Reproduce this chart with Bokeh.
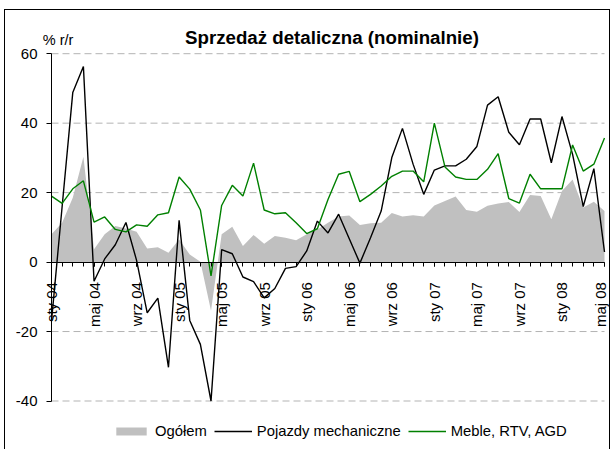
import math
from bokeh.plotting import figure
from bokeh.models import Range1d, FixedTicker, Label, Legend, LegendItem
from bokeh.embed import file_html
from bokeh.resources import INLINE

# months from sty 04 (index 0) to maj 08 (index 52)
month_index = list(range(53))
tick_index = [0, 4, 8, 12, 16, 20, 24, 28, 32, 36, 40, 44, 48, 52]
tick_labels = ["sty 04", "maj 04", "wrz 04", "sty 05", "maj 05", "wrz 05", "sty 06",
               "maj 06", "wrz 06", "sty 07", "maj 07", "wrz 07", "sty 08", "maj 08"]
y_ticks = [-40, -20, 0, 20, 40, 60]
grid_ticks = [-40, -20, 20, 40, 60]

ogolem = [8.0, 11.3, 18.5, 30.3, 3.7, 8.0, 10.4, 9.7, 8.75, 3.9, 4.3, 2.7, 6.5, 2.2,
          0.1, -14.0, 8.0, 10.2, 4.6, 7.8, 5.3, 7.5, 7.0, 6.3, 8.0, 9.4, 11.3, 13.1,
          13.4, 10.7, 11.2, 11.3, 14.1, 13.1, 13.5, 13.1, 16.3, 17.6, 18.9, 15.0, 14.5,
          16.2, 16.9, 17.3, 14.4, 19.3, 19.0, 12.3, 20.5, 23.8, 15.7, 17.4, 14.7]

pojazdy = [-17.0, 16.0, 48.8, 56.3, -5.5, 0.9, 5.0, 11.4, 0.5, -14.6, -10.4, -30.3, 12.0,
           -16.8, -23.7, -40.0, 3.6, 2.4, -4.3, -5.6, -10.3, -7.6, -1.8, -1.3, 3.2, 11.8,
           8.4, 13.8, 6.7, -0.3, 7.0, 14.7, 30.1, 38.5, 28.2, 19.5, 26.5, 27.7, 27.7, 29.6,
           33.3, 45.2, 47.6, 37.4, 33.8, 41.2, 41.2, 28.6, 41.9, 31.0, 16.0, 26.9, 2.9]

meble = [19.0, 16.9, 21.1, 23.4, 11.5, 13.0, 9.4, 8.7, 10.7, 10.3, 13.6, 14.2, 24.5, 21.0,
         15.0, -4.0, 16.3, 22.1, 19.0, 28.5, 15.0, 13.9, 14.2, 11.3, 8.2, 9.6, 18.0, 25.3,
         26.1, 17.4, 19.5, 21.9, 24.7, 26.2, 26.2, 23.1, 40.0, 27.4, 24.5, 23.8, 23.8, 26.7,
         31.2, 18.3, 17.0, 25.3, 21.1, 21.1, 21.1, 33.7, 26.2, 28.2, 35.7]

FONT = "Liberation Sans"

# layout (pixels inside the figure)
W, H = 606, 440
PX_LEFT, PX_RIGHT = 46.0, 599.0      # where month 0 and month 52 sit
PX_TOP, PX_BOTTOM = 43.2, 390.5      # where 60 and -40 sit
xs = (PX_RIGHT - PX_LEFT) / 52.0
ys = (PX_BOTTOM - PX_TOP) / 100.0
x_rng = Range1d(0 - PX_LEFT / xs, 52 + (W - PX_RIGHT) / xs)
y_rng = Range1d(-40 - (H - PX_BOTTOM) / ys, 60 + PX_TOP / ys)

p = figure(width=W, height=H, output_backend="svg", toolbar_location=None,
           x_range=x_rng, y_range=y_rng,
           min_border_left=0, min_border_right=0, min_border_top=0, min_border_bottom=0)
p.title.visible = False
p.outline_line_color = None
p.background_fill_color = "white"
p.border_fill_color = "white"
p.styles = {"margin-left": "4px", "margin-top": "9px",
            "border-left": "1px solid #000000", "border-top": "1px solid #000000",
            "border-right": "1px solid #000000"}

p.xgrid.visible = False
p.ygrid.visible = False

# dashed horizontal grid lines across the data span
p.segment(x0=[0] * len(grid_ticks), x1=[52] * len(grid_ticks), y0=grid_ticks, y1=grid_ticks,
          line_color="#b3b3b3", line_width=1, line_dash="7 4")

r_area = p.varea(x=month_index, y1=0, y2=ogolem, fill_color="#c0c0c0", fill_alpha=1.0)
r_poj = p.line(month_index, pojazdy, line_color="#000000", line_width=1.4)
r_meb = p.line(month_index, meble, line_color="#008000", line_width=1.4)

# y axis at x = 0
ya = p.yaxis[0]
ya.fixed_location = 0
ya.bounds = (-40, 60)
ya.ticker = FixedTicker(ticks=y_ticks)
ya.major_label_overrides = {v: str(v) for v in y_ticks}
ya.major_tick_out = 5
ya.major_tick_in = 0
ya.minor_tick_out = 0
ya.minor_tick_in = 0
ya.axis_line_color = "#000000"
ya.major_tick_line_color = "#000000"
ya.major_label_standoff = 9
ya.major_label_text_font = FONT
ya.major_label_text_font_size = "15px"
ya.major_label_text_color = "#000000"

# x axis at y = 0
xa = p.xaxis[0]
xa.fixed_location = 0
xa.bounds = (0, 52)
xa.ticker = FixedTicker(ticks=tick_index, minor_ticks=month_index)
xa.major_label_overrides = {i: lab for i, lab in zip(tick_index, tick_labels)}
xa.major_label_orientation = math.pi / 2
xa.major_tick_out = 4
xa.major_tick_in = 0
xa.minor_tick_out = 4
xa.minor_tick_in = 0
xa.axis_line_color = "#000000"
xa.major_tick_line_color = "#000000"
xa.minor_tick_line_color = "#000000"
xa.major_label_standoff = 16
xa.major_label_text_font = FONT
xa.major_label_text_font_size = "15px"
xa.major_label_text_color = "#000000"

# title and unit label (screen units: from the left and from the bottom)
p.add_layout(Label(x=326.5, y=H - 27.3, x_units="screen", y_units="screen",
                   text="Sprzedaż detaliczna (nominalnie)", text_align="center",
                   text_baseline="alphabetic", text_font=FONT, text_font_style="bold",
                   text_font_size="18.7px", text_color="#000000"))
p.add_layout(Label(x=37.3, y=H - 29.3, x_units="screen", y_units="screen",
                   text="% r/r", text_align="left", text_baseline="alphabetic",
                   text_font=FONT, text_font_size="14.5px", text_color="#000000"))

legend = Legend(items=[LegendItem(label="Ogółem", renderers=[r_area]),
                       LegendItem(label="Pojazdy mechaniczne", renderers=[r_poj]),
                       LegendItem(label="Meble, RTV, AGD", renderers=[r_meb])],
                orientation="horizontal", location=(107, H - 422 - 7),
                border_line_color=None, background_fill_alpha=0,
                padding=0, margin=0, spacing=7, label_standoff=5,
                glyph_width=38, glyph_height=10, label_height=14,
                label_text_font=FONT, label_text_font_size="14.8px",
                label_text_color="#000000")
p.add_layout(legend)

open("out.html", "w").write(file_html(p, INLINE))
